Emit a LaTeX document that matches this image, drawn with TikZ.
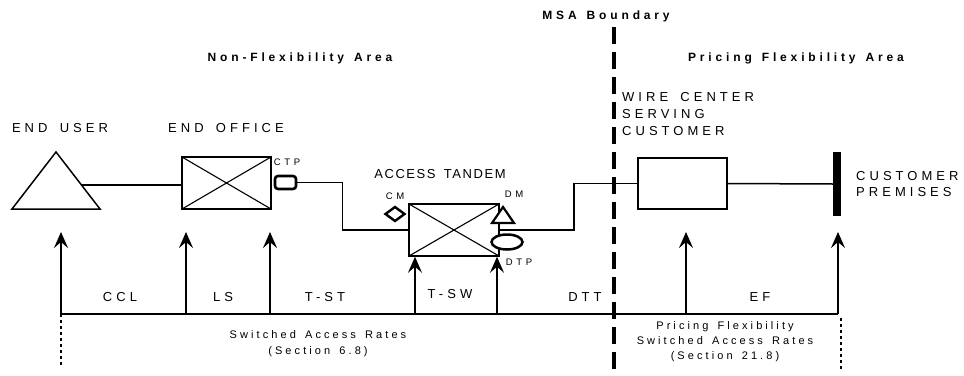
\documentclass[tikz,border=0pt]{standalone}
\usepackage{fontspec}
\setmainfont{Liberation Sans}
\newfontfamily\lsfont[LetterSpace=31,WordSpace=1.6]{Liberation Sans}
\newfontfamily\atfont[LetterSpace=12,WordSpace=1.6]{Liberation Sans}
\newfontfamily\smfont[LetterSpace=38]{Liberation Sans}
\newfontfamily\bdfont[LetterSpace=32,WordSpace=1.4]{Liberation Sans Bold}
\newfontfamily\rtfont[LetterSpace=28,WordSpace=1.5]{Liberation Sans}
\usetikzlibrary{arrows.meta,shapes.geometric}
\begin{document}
\begin{tikzpicture}[x=1pt,y=-1pt,
  thinln/.style={line width=1.5pt},
  xbox/.style={draw, line width=1.5pt, inner sep=0pt,
    path picture={\draw[line width=1.1pt] (path picture bounding box.north west)--(path picture bounding box.south east)
      (path picture bounding box.south west)--(path picture bounding box.north east);}},
  lbl/.style={font=\lsfont\fontsize{13}{17}\selectfont, inner sep=0pt},
  sml/.style={font=\smfont\fontsize{9.5}{11}\selectfont, inner sep=0pt},
  ttl/.style={font=\bdfont\fontsize{12}{14}\selectfont, inner sep=0pt},
  rate/.style={font=\rtfont\fontsize{11}{15.5}\selectfont, inner sep=0pt, align=center},
  up/.style={-{Stealth[length=16pt,width=14pt,inset=6pt]}, line width=1.7pt},
  ]
\path[use as bounding box] (0,0) rectangle (964,375);

% shapes
\draw[line width=1.5pt] (56,152) -- (100,209) -- (12,209) -- cycle;
\coordinate (eu) at (82,185);
\node[xbox, minimum width=89pt, minimum height=52pt] (eo) at (226.5,183) {};
\node[draw, line width=2.6pt, rounded corners=3pt, minimum width=21pt, minimum height=13pt, inner sep=0pt] (ctp) at (285.5,182.5) {};
\node[xbox, minimum width=90pt, minimum height=52pt] (at) at (454,230) {};
\node[draw, diamond, line width=2.4pt, minimum width=20pt, minimum height=15pt, inner sep=0pt] (cm) at (395,214) {};
\draw[line width=2.2pt, fill=white] (503,207) -- (514,223) -- (492,223) -- cycle;
\coordinate (dm) at (503,216);
\node[draw, ellipse, line width=2.5pt, fill=white, minimum width=31pt, minimum height=15pt, inner sep=0pt] (dtp) at (507,242) {};
\node[draw, line width=1.5pt, minimum width=89pt, minimum height=51pt, inner sep=0pt] (wc) at (682.5,183.5) {};
\node[fill, minimum width=8pt, minimum height=64pt, inner sep=0pt] (cp) at (837,184) {};

% connectors
\draw[thinln] (eu) -- (eu -| eo.west);
\draw[thinln] (ctp.east) -- ++(45,0) |- (at.west);
\draw[thinln] (at.east) -- ++(74,0) |- (wc.west);
\draw[thinln] (wc.east) -- (cp.west);

% baseline and arrows
\coordinate (b1) at (61,314);
\coordinate (b2) at (186,314);
\coordinate (b3) at (270,314);
\coordinate (b4) at (415,314);
\coordinate (b5) at (497,314);
\coordinate (b6) at (686,314);
\coordinate (b7) at (838,314);
\coordinate (t1) at (61,232);
\coordinate (t2) at (186,232);
\coordinate (t3) at (270,232);
\coordinate (t6) at (686,232);
\coordinate (t7) at (838,232);
\draw[line width=1.7pt] (b1) -- (b7);
\draw[up] (b1) -- (t1);
\draw[up] (b2) -- (t2);
\draw[up] (b3) -- (t3);
\draw[up] (b4) -- (b4 |- at.south);
\draw[up] (b5) -- (b5 |- at.south);
\draw[up] (b6) -- (t6);
\draw[up] (b7) -- (t7);
\coordinate (d1) at (61,367);
\coordinate (d2a) at (841,318);
\coordinate (d2b) at (841,370);
\draw[line width=1.4pt, dash pattern=on 3pt off 3pt] (b1) -- (d1);
\draw[line width=1.4pt, dash pattern=on 3pt off 3pt] (d2a) -- (d2b);

% MSA boundary
\coordinate (msa1) at (614,27);
\coordinate (msa2) at (614,375);
\draw[line width=3.5pt, dash pattern=on 17pt off 8pt] (msa1) -- (msa2);

% texts
\node[lbl] (teu) at (60,128) {END USER};
\node[lbl] (teo) at (226,128) {END OFFICE};
\node[sml] (tctp) at (287,162) {CTP};
\node[lbl, font=\atfont\fontsize{13}{17}\selectfont] (tat) at (440,174) {ACCESS TANDEM};
\node[sml] (tcm) at (395,196) {CM};
\node[sml] (tdm) at (514,194) {DM};
\node[sml] (tdtp) at (519,262) {DTP};
\node[ttl] (tmsa) at (606,16) {MSA Boundary};
\node[ttl] (tnf) at (300,58) {Non-Flexibility Area};
\node[ttl] (tpf) at (796,58) {Pricing Flexibility Area};
\node[lbl, align=left, anchor=west] (twc) at (622,114) {WIRE CENTER\\SERVING\\CUSTOMER};
\node[lbl, align=left, anchor=west, font=\lsfont\fontsize{13}{16}\selectfont] (tcp) at (856,184) {CUSTOMER\\PREMISES};
\node[lbl] (tccl) at (120,297) {CCL};
\node[lbl] (tls) at (223,297) {LS};
\node[lbl] (ttst) at (325,297) {T-ST};
\node[lbl] (ttsw) at (450,294) {T-SW};
\node[lbl] (tdtt) at (585,297) {DTT};
\node[lbl] (tef) at (760,297) {EF};
\node[rate, font=\rtfont\fontsize{11}{16}\selectfont] (tsar) at (318,344) {Switched Access Rates\\(Section 6.8)};
\node[rate, font=\rtfont\fontsize{11}{15}\selectfont] (tpfr) at (725,342) {Pricing Flexibility\\Switched Access Rates\\(Section 21.8)};
\end{tikzpicture}
\end{document}
